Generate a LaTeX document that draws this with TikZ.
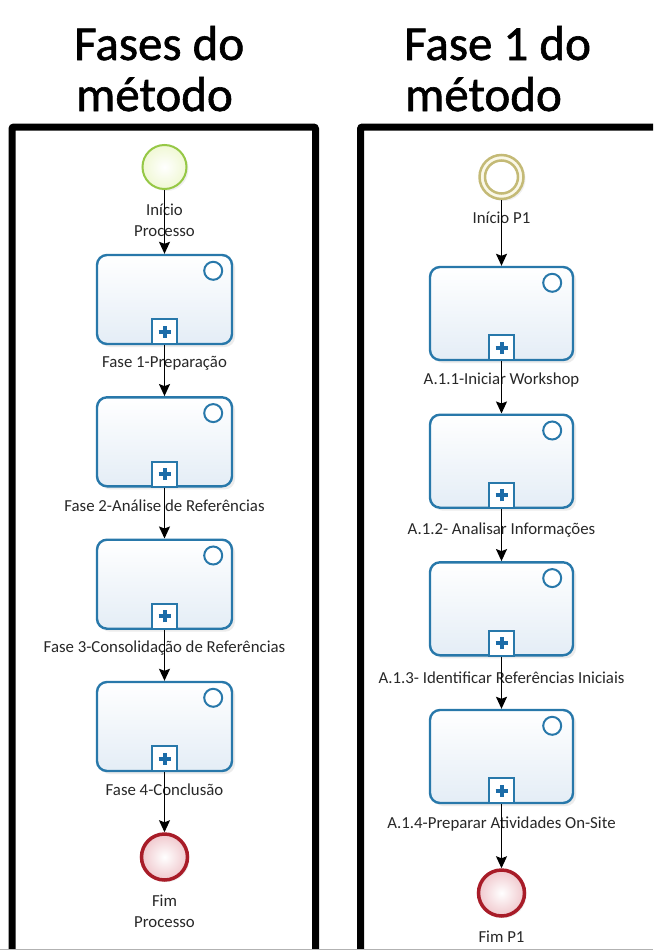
\documentclass[tikz,border=0pt]{standalone}
\usepackage{fontspec}
\setmainfont{Carlito}
\newfontfamily\titlefont[FakeBold=1.2]{Carlito}
\usetikzlibrary{arrows.meta,shadows}
\definecolor{taskblue}{RGB}{40,120,170}
\definecolor{taskfill}{RGB}{228,237,246}
\definecolor{plusblue}{RGB}{28,108,168}
\definecolor{startgreen}{RGB}{150,200,70}
\definecolor{startgreenfill}{RGB}{240,248,212}
\definecolor{startkhaki}{RGB}{196,186,118}
\definecolor{startkhakifill}{RGB}{250,248,232}
\definecolor{endred}{RGB}{168,28,40}
\definecolor{endfill}{RGB}{240,200,205}
\definecolor{lblgray}{RGB}{40,40,40}
\begin{document}
\begin{tikzpicture}[x=1pt,y=-1pt,
  task/.style={draw=taskblue, line width=2.4pt, rounded corners=10pt,
    minimum width=135pt, minimum height=89pt, top color=white, bottom color=taskfill,
    drop shadow={opacity=0.15, shadow xshift=3pt, shadow yshift=-3pt}},
  taskR/.style={task, minimum width=143pt, minimum height=93pt},
  plusbox/.style={draw=taskblue, line width=2pt, fill=white, minimum size=25pt,
    inner sep=0pt, anchor=south},
  plusmark/.style={draw=plusblue, line width=4pt},
  markcirc/.style={circle, draw=taskblue, line width=2pt, fill=white,
    minimum size=18pt, inner sep=0pt},
  startL/.style={circle, draw=startgreen, line width=2pt, inner color=white,
    outer color=startgreenfill, minimum size=44pt, inner sep=0pt,
    drop shadow={opacity=0.12, shadow xshift=2pt, shadow yshift=-2pt}},
  startR/.style={circle, draw=startkhaki, line width=2.5pt, fill=startkhakifill,
    minimum size=44pt, inner sep=0pt,
    drop shadow={opacity=0.12, shadow xshift=2pt, shadow yshift=-2pt}},
  innerring/.style={circle, draw=startkhaki, line width=2.5pt, fill=white,
    minimum size=33pt, inner sep=0pt},
  endev/.style={circle, draw=endred, line width=3.5pt, inner color=white,
    outer color=endfill, minimum size=46pt, inner sep=0pt,
    drop shadow={opacity=0.12, shadow xshift=2pt, shadow yshift=-2pt}},
  lbl/.style={font=\fontsize{16.8}{21}\selectfont, text=lblgray, align=center, inner sep=0pt},
  titletxt/.style={font=\titlefont\fontsize{49}{50}\selectfont, anchor=base west, inner sep=0pt},
  flow/.style={draw=black, line width=1.4pt, -{Stealth[length=12pt,width=11pt,inset=2pt]}},
  frame/.style={draw=black, line width=7pt, rounded corners=2pt}
]
\useasboundingbox (0,0) rectangle (653,950);
\fill[white] (0,0) rectangle (653,950);

% titles
\node[titletxt] (t1a) at (74,60) {Fases do};
\node[titletxt] (t1b) at (76,111) {método};
\node[titletxt] (t2a) at (404,60) {Fase 1 do};
\node[titletxt] (t2b) at (405,111) {método};

% frames
\begin{scope}
\clip (0,0) rectangle (653,950);
\draw[frame] (12,1000) -- (12,127) -- (315.5,127) -- (315.5,1000);
\draw[frame] (360.5,1000) -- (360.5,127) -- (700,127);
\end{scope}
\draw[black!30, line width=1pt] (0,949.5) -- (653,949.5);

% ---------- left column ----------
\node[startL] (sL) at (164.5,167) {};
\node[lbl] (lsL) at (164.5,220) {Início\\Processo};
\node[task] (a1) at (164.5,299.5) {};
\node[task] (a2) at (164.5,441.8) {};
\node[task] (a3) at (164.5,584.2) {};
\node[task] (a4) at (164.5,726.5) {};
\node[endev] (eL) at (164.5,857) {};
\node[lbl] (leL) at (164.5,911) {Fim\\Processo};

\foreach \b in {a1,a2,a3,a4}{
  \node[markcirc] (m\b) at ([xshift=-20pt,yshift=-17pt]\b.north east) {};
  \node[plusbox] (p\b) at (\b.south) {};
  \draw[plusmark] ([xshift=-6pt]p\b.center) -- ([xshift=6pt]p\b.center);
  \draw[plusmark] ([yshift=-6pt]p\b.center) -- ([yshift=6pt]p\b.center);
}
\node[lbl] (la1) at ([yshift=-18pt]a1.south) {Fase 1-Preparação};
\node[lbl] (la2) at ([yshift=-18pt]a2.south) {Fase 2-Análise de Referências};
\node[lbl] (la3) at ([yshift=-18pt]a3.south) {Fase 3-Consolidação de Referências};
\node[lbl] (la4) at ([yshift=-18pt]a4.south) {Fase 4-Conclusão};

\draw[flow] (sL) -- (a1);
\draw[flow] (pa1) -- (a2);
\draw[flow] (pa2) -- (a3);
\draw[flow] (pa3) -- (a4);
\draw[flow] (pa4) -- (eL);

% ---------- right column ----------
\node[startR] (sR) at (501.5,177) {};
\node[innerring] (sRi) at (sR.center) {};
\node[lbl] (lsR) at (501.5,218) {Início P1};
\node[taskR] (b1) at (501.5,313.5) {};
\node[taskR] (b2) at (501.5,461.2) {};
\node[taskR] (b3) at (501.5,608.8) {};
\node[taskR] (b4) at (501.5,756.5) {};
\node[endev] (eR) at (501.5,893) {};
\node[lbl] (leR) at (501.5,937) {Fim P1};

\foreach \b in {b1,b2,b3,b4}{
  \node[markcirc] (m\b) at ([xshift=-22pt,yshift=-17pt]\b.north east) {};
  \node[plusbox] (p\b) at (\b.south) {};
  \draw[plusmark] ([xshift=-6pt]p\b.center) -- ([xshift=6pt]p\b.center);
  \draw[plusmark] ([yshift=-6pt]p\b.center) -- ([yshift=6pt]p\b.center);
}
\node[lbl] (lb1) at ([yshift=-19pt]b1.south) {A.1.1-Iniciar Workshop};
\node[lbl] (lb2) at ([yshift=-21pt]b2.south) {A.1.2- Analisar Informações};
\node[lbl] (lb3) at ([yshift=-21pt]b3.south) {A.1.3- Identificar Referências Iniciais};
\node[lbl] (lb4) at ([yshift=-20pt]b4.south) {A.1.4-Preparar Atividades On-Site};

\draw[flow] (sR) -- (b1);
\draw[flow] (pb1) -- (b2);
\draw[flow] (pb2) -- (b3);
\draw[flow] (pb3) -- (b4);
\draw[flow] (pb4) -- (eR);
\end{tikzpicture}
\end{document}
